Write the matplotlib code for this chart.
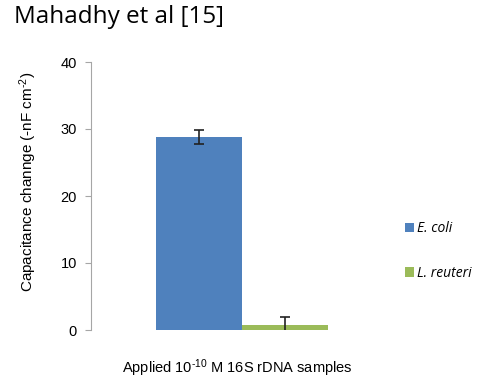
import matplotlib
matplotlib.use("Agg")
import matplotlib.pyplot as plt
from matplotlib.patches import Patch

plt.rcParams["mathtext.fontset"] = "custom"
plt.rcParams["mathtext.rm"] = "Liberation Sans"
plt.rcParams["mathtext.it"] = "Liberation Sans:italic"

series = ["E. coli", "L. reuteri"]
values = [28.8, 0.8]
errors = [1.0, 1.2]
colors = ["#4F81BD", "#9BBB59"]
yticks = [0, 10, 20, 30, 40]

fig = plt.figure(figsize=(5.0, 3.82), dpi=100)
ax = fig.add_axes([91/500, 1 - 330/382, (393-91)/500, (330-62)/382])

w = 0.285
offsets = [-w/2, w/2]
for i, (v, e, c) in enumerate(zip(values, errors, colors)):
    ax.bar(offsets[i], v, width=w, color=c, edgecolor="none", zorder=2)
    ax.errorbar(offsets[i], v, yerr=e, fmt="none", ecolor="#222222",
                elinewidth=1.2, capsize=3.5, capthick=1.2, zorder=3)

ax.set_xlim(-0.5, 0.5)
ax.set_ylim(0, 40)
ax.set_yticks(yticks)
ax.set_xticks([])
for s in ["top", "right", "bottom"]:
    ax.spines[s].set_visible(False)
ax.spines["left"].set_color("#A6A6A6")
ax.tick_params(axis="y", direction="out", length=4, color="#A6A6A6",
               labelsize=10.5, pad=6)
for t in ax.get_yticklabels():
    t.set_fontfamily("Liberation Sans")

fig.text(28/500, 1 - 182/382, r"Capacitance channge (-nF cm$^{\text{-2}}$)",
         rotation=90, ha="center", va="center", fontsize=11,
         fontfamily="Liberation Sans")
fig.text(237/500, 1 - 368/382, r"Applied 10$^{\text{-10}}$ M 16S rDNA samples",
         ha="center", va="center", fontsize=10.5, fontfamily="Liberation Sans")

fig.text(14/500, 1 - 17/382, "Mahadhy et al [15]", ha="left", va="center",
         fontsize=17.5, fontfamily="Open Sans")

handles = [Patch(facecolor=c, edgecolor="none") for c in colors]
leg = fig.legend(handles, series, loc="center left",
                 bbox_to_anchor=(392/500, 1 - 251/382), frameon=False,
                 handlelength=0.7, handleheight=0.7, handletextpad=0.2,
                 labelspacing=2.1,
                 prop={"family": "Open Sans", "style": "italic", "size": 10})

fig.savefig("out.png", dpi=100)
